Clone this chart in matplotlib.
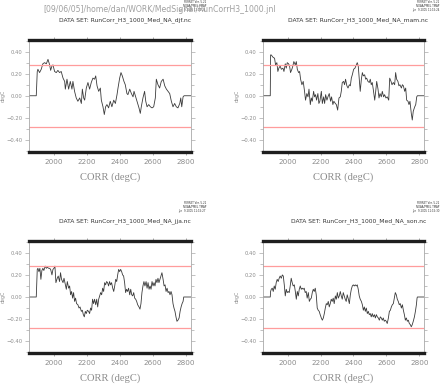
import matplotlib
matplotlib.use("Agg")
import matplotlib.pyplot as plt
from matplotlib.ticker import MultipleLocator, FixedLocator

# ---- data ----
djf_years = [1849, 1893, 1899, 1903, 1913, 1923, 1933, 1943, 1954, 1964,
             1970, 1974, 1980, 1988, 1994, 2004, 2014, 2024, 2034, 2044,
             2055, 2065, 2069, 2079, 2089, 2099, 2109, 2115, 2125, 2135,
             2145, 2156, 2166, 2172, 2180, 2186, 2196, 2206, 2216, 2226,
             2236, 2246, 2253, 2261, 2271, 2281, 2287, 2297, 2305, 2313,
             2321, 2331, 2341, 2351, 2362, 2372, 2382, 2388, 2398, 2406,
             2414, 2424, 2432, 2442, 2448, 2459, 2469, 2479, 2485, 2495,
             2503, 2515, 2523, 2529, 2539, 2549, 2556, 2564, 2574, 2584,
             2594, 2604, 2614, 2620, 2630, 2640, 2650, 2661, 2671, 2681,
             2691, 2701, 2711, 2721, 2731, 2741, 2751, 2762, 2768, 2774,
             2782, 2788, 2830]
djf_corr = [0, 0, 0.22, 0.24, 0.21, 0.24, 0.29, 0.30, 0.29, 0.33,
            0.30, 0.28, 0.23, 0.27, 0.28, 0.22, 0.21, 0.23, 0.21, 0.22,
            0.16, 0.13, 0.06, 0.15, 0.06, 0.13, 0.06, 0.13, 0.04, -0.02,
            -0.05, -0.02, -0.07, 0.06, -0.02, -0.04, 0.07, 0.12, 0.06, 0.12,
            0.16, 0.15, 0.18, 0.09, 0.04, 0.07, -0.04, -0.10, -0.17, -0.10,
            -0.08, -0.11, -0.05, -0.10, -0.04, -0.07, 0.01, 0.07, 0.16, 0.21,
            0.18, 0.13, 0.10, 0.02, 0.01, 0.06, 0.02, -0.01, 0.04, -0.01,
            -0.05, -0.11, -0.16, -0.10, -0.02, 0.04, -0.05, -0.10, -0.08, -0.10,
            -0.11, -0.10, -0.02, 0.15, 0.10, 0.07, 0.13, 0.15, 0.09, 0.06,
            0.04, 0.02, -0.05, -0.10, -0.07, -0.10, -0.11, -0.07, -0.02, -0.10,
            -0.01, 0, 0]

mam_years = [1849, 1895, 1897, 1901, 1911, 1921, 1927, 1935, 1941, 1947,
             1955, 1962, 1972, 1978, 1986, 1992, 1998, 2006, 2012, 2018,
             2026, 2032, 2038, 2047, 2053, 2059, 2067, 2073, 2079, 2087,
             2095, 2103, 2109, 2117, 2124, 2130, 2138, 2144, 2150, 2158,
             2164, 2170, 2176, 2184, 2190, 2196, 2205, 2211, 2219, 2225,
             2231, 2239, 2245, 2253, 2261, 2267, 2275, 2281, 2290, 2296,
             2304, 2312, 2320, 2326, 2332, 2340, 2346, 2352, 2360, 2367,
             2375, 2381, 2387, 2393, 2401, 2409, 2417, 2423, 2429, 2435,
             2441, 2448, 2454, 2460, 2468, 2474, 2480, 2488, 2496, 2502,
             2508, 2514, 2520, 2529, 2535, 2541, 2549, 2555, 2561, 2569,
             2575, 2583, 2589, 2597, 2605, 2614, 2620, 2628, 2634, 2642,
             2650, 2656, 2662, 2670, 2676, 2682, 2691, 2697, 2703, 2711,
             2717, 2723, 2731, 2737, 2743, 2751, 2757, 2763, 2772, 2778,
             2784, 2788, 2830]
mam_corr = [0, 0, 0.37, 0.37, 0.35, 0.34, 0.28, 0.30, 0.22, 0.25,
            0.27, 0.24, 0.25, 0.22, 0.29, 0.25, 0.30, 0.29, 0.27, 0.21,
            0.24, 0.27, 0.31, 0.28, 0.31, 0.24, 0.21, 0.22, 0.15, 0.10,
            0.13, 0.04, -0.04, 0.02, -0.01, 0.06, -0.08, -0.02, -0.05, 0.04,
            -0.01, 0.01, -0.04, 0.02, -0.07, -0.05, 0.04, -0.07, -0.01, -0.07,
            0.01, -0.04, -0.01, 0.02, -0.05, -0.01, -0.08, -0.05, -0.07, -0.08,
            -0.13, -0.02, -0.01, 0.04, 0.12, 0.13, 0.10, 0.15, 0.09, 0.07,
            0.10, 0.09, 0.16, 0.19, 0.24, 0.25, 0.28, 0.30, 0.27, 0.16,
            0.04, 0.15, 0.21, 0.18, 0.19, 0.15, 0.16, 0.13, 0.12, 0.15,
            0.10, 0.12, 0.06, -0.04, 0.04, 0.13, 0.06, -0.02, 0.02, -0.01,
            0.04, -0.01, 0.01, -0.02, -0.01, -0.04, 0.16, 0.13, 0.10, 0.12,
            0.10, 0.21, 0.15, 0.13, 0.09, 0.10, 0.07, 0.10, 0.09, 0.04,
            0.07, -0.04, -0.05, -0.08, -0.05, -0.16, -0.22, -0.14, -0.10, -0.08,
            -0.01, 0, 0]

jja_years = [1849, 1893, 1899, 1903, 1909, 1915, 1921, 1927, 1933, 1939,
             1947, 1954, 1960, 1968, 1974, 1980, 1988, 1994, 2000, 2006,
             2012, 2020, 2026, 2034, 2040, 2046, 2055, 2061, 2069, 2075,
             2081, 2089, 2095, 2101, 2107, 2113, 2119, 2125, 2131, 2137,
             2145, 2152, 2158, 2166, 2172, 2178, 2184, 2190, 2196, 2202,
             2210, 2216, 2222, 2228, 2234, 2240, 2246, 2253, 2259, 2265,
             2271, 2277, 2283, 2289, 2295, 2301, 2307, 2313, 2319, 2325,
             2331, 2337, 2343, 2349, 2356, 2362, 2368, 2374, 2380, 2386,
             2392, 2398, 2404, 2410, 2416, 2422, 2428, 2434, 2440, 2446,
             2452, 2459, 2465, 2471, 2477, 2483, 2489, 2495, 2501, 2507,
             2515, 2521, 2527, 2533, 2539, 2545, 2551, 2558, 2564, 2570,
             2576, 2582, 2588, 2594, 2600, 2606, 2612, 2618, 2624, 2630,
             2636, 2642, 2648, 2654, 2661, 2667, 2673, 2679, 2685, 2691,
             2697, 2703, 2709, 2715, 2721, 2727, 2733, 2739, 2745, 2751,
             2758, 2764, 2770, 2776, 2782, 2786, 2830]
jja_corr = [0, 0, 0.25, 0.26, 0.23, 0.26, 0.16, 0.24, 0.26, 0.24,
            0.28, 0.26, 0.27, 0.26, 0.26, 0.25, 0.20, 0.25, 0.26, 0.28,
            0.13, 0.17, 0.19, 0.14, 0.22, 0.16, 0.13, 0.17, 0.11, 0.07,
            0.14, 0.08, 0.10, 0.02, 0.05, -0.01, 0.04, -0.04, -0.01, -0.06,
            -0.07, -0.10, -0.09, -0.13, -0.12, -0.16, -0.18, -0.13, -0.15, -0.12,
            -0.13, -0.15, -0.10, -0.12, -0.02, -0.06, -0.02, -0.07, -0.02, -0.09,
            -0.02, 0.01, 0.04, 0.02, 0.08, 0.05, 0.13, 0.11, 0.14, 0.13,
            0.10, 0.14, 0.11, 0.13, 0.08, 0.05, 0.10, 0.16, 0.14, 0.20,
            0.25, 0.23, 0.25, 0.23, 0.20, 0.19, 0.13, 0.04, 0.07, 0.05,
            0.08, 0.02, 0.07, 0.02, 0.01, 0.04, -0.01, -0.02, -0.04, -0.07,
            -0.09, -0.11, -0.06, 0.04, 0.10, 0.14, 0.10, 0.14, 0.08, 0.13,
            0.07, 0.10, 0.07, 0.14, 0.10, 0.13, 0.10, 0.16, 0.13, 0.17,
            0.13, 0.16, 0.19, 0.22, 0.16, 0.10, 0.11, 0.05, 0.08, 0.04,
            0.05, 0.02, 0.05, 0.02, -0.06, -0.10, -0.13, -0.18, -0.22, -0.21,
            -0.19, -0.13, -0.09, -0.06, -0.04, 0, 0]

son_years = [1849, 1895, 1897, 1901, 1907, 1913, 1919, 1925, 1931, 1937,
             1943, 1949, 1955, 1962, 1968, 1974, 1980, 1986, 1992, 1998,
             2004, 2010, 2016, 2022, 2028, 2034, 2041, 2047, 2053, 2059,
             2065, 2071, 2077, 2083, 2089, 2095, 2101, 2107, 2113, 2119,
             2126, 2132, 2138, 2144, 2150, 2156, 2162, 2168, 2174, 2180,
             2186, 2192, 2198, 2205, 2211, 2217, 2223, 2229, 2235, 2241,
             2247, 2253, 2259, 2265, 2271, 2277, 2283, 2290, 2296, 2302,
             2308, 2314, 2320, 2326, 2332, 2338, 2344, 2350, 2356, 2362,
             2369, 2375, 2381, 2387, 2393, 2399, 2405, 2411, 2417, 2423,
             2429, 2435, 2441, 2448, 2454, 2460, 2466, 2472, 2478, 2484,
             2490, 2496, 2502, 2508, 2514, 2520, 2527, 2533, 2539, 2545,
             2551, 2557, 2563, 2569, 2575, 2581, 2587, 2593, 2599, 2605,
             2612, 2618, 2624, 2630, 2636, 2642, 2648, 2654, 2660, 2666,
             2672, 2678, 2684, 2691, 2697, 2703, 2709, 2715, 2721, 2727,
             2733, 2739, 2745, 2751, 2757, 2763, 2770, 2776, 2782, 2786,
             2788, 2830]
son_corr = [0, 0, 0.05, 0.07, 0.08, 0.05, 0.10, 0.07, 0.13, 0.16,
            0.14, 0.17, 0.19, 0.17, 0.20, 0.19, 0.11, 0.01, 0.07, 0.04,
            0.05, 0.04, 0.10, 0.17, 0.13, 0.10, 0.11, 0.05, -0.02, 0.05,
            0.01, 0.07, 0.10, 0.07, 0.08, 0.07, 0.08, 0.04, 0.05, -0.01,
            0.04, -0.04, -0.02, -0.01, 0.04, 0.07, 0.05, 0.08, 0.02, -0.10,
            -0.12, -0.13, -0.16, -0.19, -0.21, -0.19, -0.15, -0.10, -0.06, -0.07,
            -0.04, -0.09, -0.06, -0.02, -0.04, -0.01, -0.06, 0.01, -0.02, 0.04,
            -0.01, 0.01, 0.05, 0.01, -0.02, 0.04, 0.01, -0.02, -0.04, 0.02,
            -0.02, -0.06, 0.02, 0.07, 0.10, 0.11, 0.10, 0.11, 0.10, 0.11,
            0.07, 0.01, -0.02, -0.04, -0.07, -0.12, -0.09, -0.13, -0.10, -0.15,
            -0.13, -0.16, -0.15, -0.18, -0.15, -0.18, -0.16, -0.19, -0.16, -0.18,
            -0.19, -0.21, -0.18, -0.19, -0.21, -0.19, -0.22, -0.21, -0.22, -0.24,
            -0.19, -0.13, -0.12, -0.09, -0.07, -0.06, -0.01, 0.04, 0.02, -0.02,
            -0.04, -0.07, -0.06, -0.10, -0.07, -0.12, -0.16, -0.21, -0.19, -0.22,
            -0.21, -0.24, -0.25, -0.27, -0.25, -0.22, -0.18, -0.13, -0.07, -0.01,
            0, 0]

season_files = ["RunCorr_H3_1000_Med_NA_djf.nc", "RunCorr_H3_1000_Med_NA_mam.nc",
                "RunCorr_H3_1000_Med_NA_jja.nc", "RunCorr_H3_1000_Med_NA_son.nc"]
stamp_times = ["11:15:24", "11:15:24", "11:15:27", "11:15:30"]
signif_level = [0.28, -0.28]
xticks = [2000, 2200, 2400, 2600, 2800]
yticks = [-0.4, -0.2, 0.0, 0.2, 0.4]
title = "[09/06/05]/home/dan/WORK/MedSignal/RunCorrH3_1000.jnl"

W, H = 441, 384
fig = plt.figure(figsize=(W / 100, H / 100), dpi=100)

# axes boxes in pixels: left, top, right, bottom
boxes = [(29, 39.5, 191, 152), (262.7, 39.5, 424.3, 152),
         (29, 240.7, 191, 353.3), (262.7, 240.7, 424.3, 353.3)]
series = [(djf_years, djf_corr), (mam_years, mam_corr),
          (jja_years, jja_corr), (son_years, son_corr)]

grey = "#8c8c8c"

for i, ((l, t, r, b), (yrs, vals)) in enumerate(zip(boxes, series)):
    ax = fig.add_axes([l / W, 1 - b / H, (r - l) / W, (b - t) / H])
    ax.plot(yrs, vals, color="#3a3a3a", lw=0.6)
    for lev in signif_level:
        ax.axhline(lev, color="#ff9c9c", lw=0.9)
    ax.set_xlim(1849, 2830)
    ax.set_ylim(-0.51, 0.51)

    for side in ["top", "bottom"]:
        ax.spines[side].set_color("#1e1e1e")
        ax.spines[side].set_linewidth(2.4)
    for side in ["left", "right"]:
        ax.spines[side].set_color("#a8a8a8")
        ax.spines[side].set_linewidth(0.6)

    ax.xaxis.set_major_locator(FixedLocator(xticks))
    ax.yaxis.set_major_locator(FixedLocator(yticks))
    ax.yaxis.set_minor_locator(MultipleLocator(0.1))
    ax.set_xticklabels([str(x) for x in xticks])
    ax.set_yticklabels([("%.2f" % y).replace("-", "\u2212") for y in yticks])
    ax.tick_params(axis="x", which="both", direction="out", length=2,
                   width=0.5, color=grey, labelsize=5.2, labelcolor=grey,
                   pad=3, top=True)
    ax.tick_params(axis="y", which="major", direction="out", length=3.2,
                   width=0.5, color="#a8a8a8", labelsize=3.8, labelcolor=grey,
                   pad=1.5, right=True)
    ax.tick_params(axis="y", which="minor", direction="out", length=2,
                   width=0.5, color="#a8a8a8", right=True)

    cx = (l + r) / 2
    fig.text((cx + 15) / W, 1 - (t - 19.5) / H, "DATA SET: " + season_files[i],
             ha="center", va="center", fontsize=4.3, color="#333333")
    fig.text(cx / W, 1 - (b + 25) / H, "CORR (degC)", ha="center", va="center",
             fontsize=7.6, color=grey, family="Liberation Serif")
    fig.text((l - 25.5) / W, 1 - (t + 56) / H, "degC", rotation=90,
             ha="center", va="center", fontsize=3.4, color=grey)
    fig.text((r + 15) / W, 1 - (t - 39.5) / H,
             "FERRET Ver. 5.22\nNOAA/PMEL TMAP\nJun  9 2005 " + stamp_times[i],
             ha="right", va="top", fontsize=1.9, color="#333333",
             linespacing=1.0)

fig.text(43 / W, 1 - 10 / H, title, ha="left", va="center",
         fontsize=5.6, color="#a0a0a0")

fig.savefig("out.png", dpi=100)
